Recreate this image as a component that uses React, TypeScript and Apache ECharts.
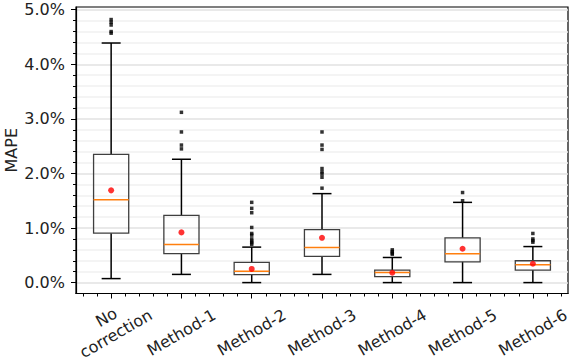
import React, { useEffect, useRef } from 'react';
import * as echarts from 'echarts';

const categories = ['No\ncorrection', 'Method-1', 'Method-2', 'Method-3', 'Method-4', 'Method-5', 'Method-6'];
const lowerWhisker = [0.073, 0.15, 0.0, 0.15, 0.0, 0.0, 0.0];
const q1 = [0.905, 0.53, 0.147, 0.48, 0.11, 0.38, 0.23];
const median = [1.52, 0.7, 0.21, 0.645, 0.185, 0.53, 0.325];
const q3 = [2.35, 1.23, 0.37, 0.97, 0.23, 0.82, 0.4];
const upperWhisker = [4.39, 2.26, 0.65, 1.63, 0.46, 1.47, 0.66];
const means = [1.69, 0.92, 0.25, 0.82, 0.18, 0.62, 0.345];
const outliers = [
  [4.82, 4.77, 4.72, 4.6, 4.57],
  [3.12, 2.76, 2.52, 2.45],
  [1.47, 1.36, 1.28, 1.01, 0.9, 0.87, 0.8, 0.76, 0.73, 0.7],
  [2.76, 2.52, 2.44, 2.09, 2.03, 1.99, 1.93, 1.73],
  [0.6, 0.57, 0.54, 0.52],
  [1.65, 1.5],
  [0.9, 0.8, 0.77, 0.74],
];
const yMajorTicks = [0, 1, 2, 3, 4, 5];
const yMin = -0.2;
const yMax = 5.05;

const FONT = 'DejaVu Sans';

export default function App() {
  const ref = useRef<HTMLDivElement>(null);
  useEffect(() => {
    if (!ref.current) return;
    const chart = echarts.init(ref.current, undefined, { renderer: 'svg' });

    const yMinor: number[] = [];
    for (let k = 1; k <= 25; k++) {
      if (k % 5 !== 0) yMinor.push(Math.round(k * 0.2 * 1000) / 1000);
    }
    const xMinor: number[] = [];
    for (let k = -2; k <= 32; k++) {
      if (k % 5 !== 0) xMinor.push(Math.round(k * 0.2 * 1000) / 1000);
    }

    const boxData = categories.map((_, i) => [i, lowerWhisker[i], q1[i], median[i], q3[i], upperWhisker[i]]);
    const outlierData: number[][] = [];
    outliers.forEach((arr, i) => arr.forEach((v) => outlierData.push([i, v])));
    const meanData = means.map((v, i) => [i, v]);

    const labelBase = {
      align: 'center',
      verticalAlign: 'middle',
      fontSize: 16,
      fontFamily: FONT,
      color: '#222',
      lineHeight: 19,
      interval: 0,
      rotate: 30,
    };
    const isMultiLine = (v: string) => v.indexOf('\n') >= 0;

    const option: any = {
      animation: false,
      backgroundColor: '#ffffff',
      grid: {
        left: 76,
        right: 3,
        top: 7,
        bottom: 64.5,
        show: true,
        borderColor: '#000',
        borderWidth: 1.2,
        backgroundColor: 'transparent',
        containLabel: false,
        outerBoundsMode: 'none',
      },
      xAxis: [
        {
          type: 'category',
          data: categories,
          boundaryGap: true,
          axisLine: { show: true, onZero: false, lineStyle: { color: '#000', width: 1.2 } },
          axisTick: { show: true, alignWithLabel: true, length: 5, lineStyle: { color: '#000', width: 1 } },
          axisLabel: {
            ...labelBase,
            margin: 39,
            formatter: (v: string) => (isMultiLine(v) ? '' : v),
          },
          splitLine: { show: false },
        },
        {
          type: 'value',
          min: -0.5,
          max: 6.5,
          position: 'bottom',
          axisLine: { show: false, onZero: false },
          axisLabel: { show: false },
          splitLine: { show: false },
          axisTick: { show: true, customValues: xMinor, length: 3, lineStyle: { color: '#000', width: 1 } },
        },
        {
          type: 'category',
          data: categories,
          boundaryGap: true,
          position: 'bottom',
          axisLine: { show: false, onZero: false },
          axisTick: { show: false },
          splitLine: { show: false },
          axisLabel: {
            ...labelBase,
            margin: 32,
            formatter: (v: string) => (isMultiLine(v) ? v : ''),
          },
        },
      ],
      yAxis: [
        {
          type: 'value',
          min: yMin,
          max: yMax,
          position: 'left',
          name: 'MAPE',
          nameLocation: 'middle',
          nameGap: 57,
          nameMoveOverlap: false,
          nameTextStyle: { fontSize: 16, fontFamily: FONT, color: '#222' },
          axisLine: { show: true, onZero: false, lineStyle: { color: '#000', width: 1.2 } },
          axisTick: { show: true, length: 5, customValues: yMajorTicks, lineStyle: { color: '#000', width: 1 } },
          axisLabel: {
            customValues: yMajorTicks,
            formatter: (v: number) => v.toFixed(1) + '%',
            margin: 11,
            fontSize: 16,
            fontFamily: FONT,
            color: '#222',
          },
          splitLine: { show: true, lineStyle: { color: '#e2e2e2', width: 1.5 } },
        },
        {
          type: 'value',
          min: yMin,
          max: yMax,
          position: 'left',
          axisLine: { show: false, onZero: false },
          axisLabel: { show: false },
          axisTick: { show: true, length: 3, customValues: yMinor, lineStyle: { color: '#000', width: 1 } },
          splitLine: { show: true, lineStyle: { color: '#f1f1f1', width: 1.5 } },
        },
      ],
      series: [
        {
          type: 'custom',
          xAxisIndex: 0,
          yAxisIndex: 0,
          data: boxData,
          encode: { x: 0, y: [1, 2, 3, 4, 5] },
          z: 3,
          renderItem: (params: any, api: any) => {
            const i = api.value(0);
            const band = api.size([1, 0])[0];
            const bw = band * 0.5;
            const cw = band * 0.27;
            const pLow = api.coord([i, api.value(1)]);
            const pQ1 = api.coord([i, api.value(2)]);
            const pMed = api.coord([i, api.value(3)]);
            const pQ3 = api.coord([i, api.value(4)]);
            const pHigh = api.coord([i, api.value(5)]);
            const cx = pLow[0];
            const wh = { stroke: '#000', lineWidth: 1.5 };
            return {
              type: 'group',
              children: [
                { type: 'line', shape: { x1: cx, y1: pQ1[1], x2: cx, y2: pLow[1] }, style: wh },
                { type: 'line', shape: { x1: cx, y1: pQ3[1], x2: cx, y2: pHigh[1] }, style: wh },
                { type: 'line', shape: { x1: cx - cw / 2, y1: pLow[1], x2: cx + cw / 2, y2: pLow[1] }, style: wh },
                { type: 'line', shape: { x1: cx - cw / 2, y1: pHigh[1], x2: cx + cw / 2, y2: pHigh[1] }, style: wh },
                {
                  type: 'rect',
                  shape: { x: cx - bw / 2, y: pQ3[1], width: bw, height: pQ1[1] - pQ3[1] },
                  style: { fill: 'none', stroke: '#3f3f3f', lineWidth: 1.3 },
                },
                {
                  type: 'line',
                  shape: { x1: cx - bw / 2, y1: pMed[1], x2: cx + bw / 2, y2: pMed[1] },
                  style: { stroke: '#ff7f0e', lineWidth: 1.5 },
                },
              ],
            };
          },
        },
        {
          type: 'scatter',
          xAxisIndex: 0,
          yAxisIndex: 0,
          data: outlierData,
          symbol: 'rect',
          symbolSize: 3.5,
          itemStyle: { color: '#000' },
          z: 4,
        },
        {
          type: 'scatter',
          xAxisIndex: 0,
          yAxisIndex: 0,
          data: meanData,
          symbol: 'circle',
          symbolSize: 6,
          itemStyle: { color: '#ff0000' },
          z: 5,
        },
      ],
    };
    chart.setOption(option);
    return () => chart.dispose();
  }, []);

  return (
    <div
      ref={ref}
      style={{ position: 'fixed', left: 0, top: 0, width: 571, height: 358, background: '#fff' }}
    />
  );
}
